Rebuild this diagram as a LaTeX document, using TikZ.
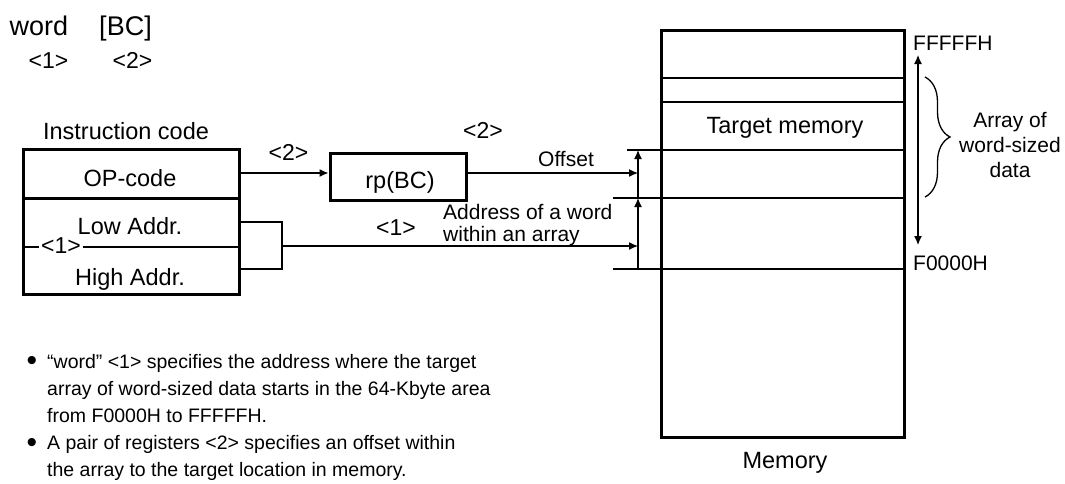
\documentclass[tikz,border=0pt]{standalone}
\usepackage{fontspec}
\setmainfont{Liberation Sans}
\usetikzlibrary{arrows.meta,decorations.pathreplacing}

\tikzset{
 frame/.style={draw, line width=3pt, inner sep=0pt},
 tit/.style={inner sep=0pt, font=\fontsize{27}{30}\selectfont},
 lab/.style={inner sep=0pt, font=\fontsize{23.5}{28}\selectfont},
 tag/.style={inner sep=0pt, font=\fontsize{23}{24}\selectfont},
 mid/.style={inner sep=0pt, font=\fontsize{21}{22}\selectfont},
 note/.style={inner sep=0pt, font=\fontsize{19.5}{27}\selectfont},
 arr/.style={-{Latex[length=9pt,width=8pt]}, line width=1.3pt},
 thin/.style={line width=2pt},
}

\begin{document}
\begin{tikzpicture}[x=1pt,y=-1pt]
 \useasboundingbox (0,0) rectangle (1065,483);
 % syntax
 \node[tit, anchor=base] (word) at (39,35) {word};
 \node[tit, anchor=base] (bc) at (125.5,35) {[BC]};
 \node[tag, anchor=base] (w1) at (48.5,68) {<1>};
 \node[tag, anchor=base] (w2) at (132.5,68) {<2>};
 % instruction code
 \node[lab, anchor=base] (ictitle) at (126,139) {Instruction code};
 \node[frame, minimum width=216pt, minimum height=145pt] (instr) at (131,222) {};
 \draw[line width=3pt] (instr.west |- 0,198) -- (instr.east |- 0,198);
 \draw[thin] (instr.west |- 0,247) -- (instr.east |- 0,247);
 \node[lab, anchor=base] (op) at (130,186) {OP-code};
 \node[lab, anchor=base] (low) at (130,234) {Low Addr.};
 \node[lab, anchor=base] (high) at (130,285) {High Addr.};
 \node[tag, anchor=base, fill=white, inner xsep=2pt] (i1) at (61,253) {<1>};
 % register pair
 \node[frame, minimum width=136pt, minimum height=47pt] (rp) at (398,176.5) {};
 \node[lab, anchor=base] (rptext) at (400,188) {rp(BC)};
 \coordinate (opr) at (239,173);
 \draw[arr] (opr) -- (rp.west |- opr);
 \node[tag, anchor=base] (op2) at (288.5,160) {<2>};
 \node[tag, anchor=base] (rp2) at (483,138) {<2>};
 % memory
 \node[frame, minimum width=242.5pt, minimum height=407pt] (mem) at (782.75,233.5) {};
 \draw[thin] (mem.west |- 0,78) -- (mem.east |- 0,78);
 \draw[thin] (mem.west |- 0,102) -- (mem.east |- 0,102);
 \draw[thin] (627,150) -- (mem.east |- 0,150);
 \draw[thin] (613,198) -- (mem.east |- 0,198);
 \draw[thin] (613,269) -- (mem.east |- 0,269);
 \node[lab, anchor=base] (target) at (785,133) {Target memory};
 \node[lab, anchor=base] (memname) at (785,468) {Memory};
 % offset
 \coordinate (offs) at (638,173);
 \draw[arr] (rp.east |- offs) -- (offs);
 \node[mid, anchor=base] (offtext) at (566,166) {Offset};
 \draw[arr] (638,198) -- (638,150);
 % word address
 \draw[thin] (instr.east |- 0,222) -- (282,222) -- (282,269) -- (instr.east |- 0,269);
 \coordinate (brk) at (282,246);
 \coordinate (addr) at (638,246);
 \draw[arr] (brk) -- (addr);
 \node[tag, anchor=base] (mid1) at (396,235) {<1>};
 \node[mid, anchor=west, align=left] (addrtext) at (443,225.5) {Address of a word\\within an array};
 \draw[arr] (638,269) -- (638,198);
 % range
 \node[mid, anchor=base west] (top) at (913,50) {FFFFFH};
 \node[mid, anchor=base west] (bottom) at (913,270) {F0000H};
 \draw[{Latex[length=9pt,width=8pt]}-{Latex[length=9pt,width=8pt]}, line width=1.3pt] (918,55) -- (918,245);
 \draw[line width=1.3pt, decorate, decoration={brace, amplitude=25pt}] (925,77) -- (925,197);
 \node[mid, align=center, font=\fontsize{21}{25}\selectfont] (array) at (1010,144.5) {Array of\\word-sized\\data};
 % notes
 \node[note, font=\fontsize{30}{30}\selectfont] (dot1) at (32,363) {•};
 \node[note, font=\fontsize{30}{30}\selectfont] (dot2) at (32,445) {•};
 \foreach \txt [count=\i] in {{“word” <1> specifies the address where the target},
   {array of word-sized data starts in the 64-Kbyte area},
   {from F0000H to FFFFFH.},
   {A pair of registers <2> specifies an offset within},
   {the array to the target location in memory.}}
  \node[note, anchor=base west] (line\i) at (47,{368+27.2*(\i-1)}) {\txt};
\end{tikzpicture}
\end{document}
